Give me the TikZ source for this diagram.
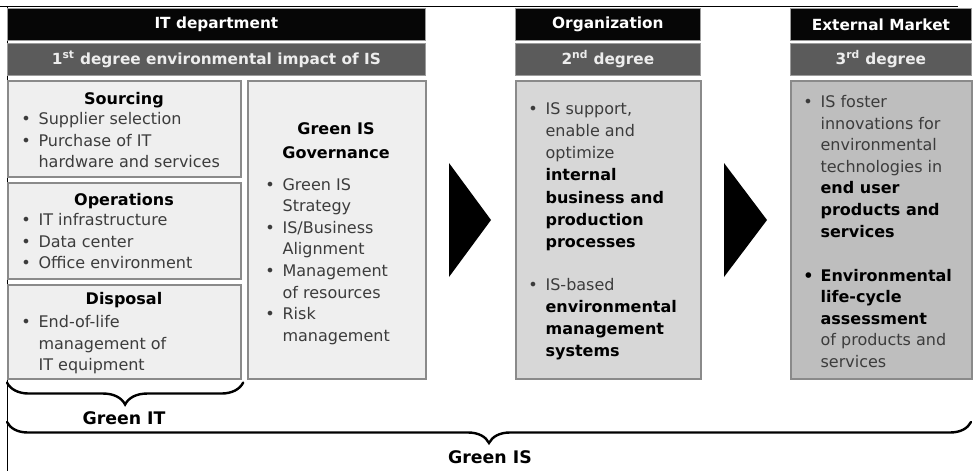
\documentclass[tikz,border=0pt]{standalone}
\usepackage{fontspec}
\setmainfont{DejaVu Sans}
\usetikzlibrary{positioning,decorations.pathreplacing}

\definecolor{barblack}{HTML}{060606}
\definecolor{bargrey}{HTML}{5B5B5B}
\definecolor{baredge}{HTML}{9C9C9C}
\definecolor{panellight}{HTML}{EFEFEF}
\definecolor{panelmid}{HTML}{D7D7D7}
\definecolor{paneldark}{HTML}{BEBEBE}
\definecolor{paneledge}{HTML}{8A8A8A}
\definecolor{bodytext}{HTML}{3C3C3C}

\newcommand{\itmark}{\makebox[13pt][l]{\textbullet}}
\newcommand{\itcont}{\hspace*{13pt}}
\newcommand{\bwd}[1]{{\bfseries\color{black}#1}}

\tikzset{
  bar/.style={anchor=north west, inner sep=0pt, fill=barblack, draw=baredge, line width=0.6pt,
    text=white, font=\fontsize{11.5}{13}\selectfont\bfseries, minimum height=24pt},
  degbar/.style={bar, fill=bargrey, text=white!93!black},
  panel/.style={anchor=north west, inner sep=0pt, draw=paneledge, line width=1.4pt, minimum height=223.5pt},
  ttl/.style={inner sep=0pt, align=center, font=\fontsize{12}{18}\selectfont\bfseries, text=black},
  lst/.style={anchor=north west, inner sep=0pt, align=left, font=\fontsize{12}{16.2}\selectfont, text=bodytext},
  gbrace/.style={decorate, decoration={brace, mirror, amplitude=#1}, line width=1.8pt, line cap=round},
  grn/.style={inner sep=0pt, font=\fontsize{13}{15}\selectfont\bfseries},
  arrowhead/.style={fill=black}
}

\begin{document}
\begin{tikzpicture}[x=0.75pt,y=-0.75pt]
\useasboundingbox (0,0) rectangle (973,471);
% frame of the screenshot
\draw[line width=0.75pt] (0,6) -- (958,6);
\draw[line width=0.75pt] (7,6) -- (7,471);

% IT department
\node[bar, minimum width=313.5pt] (itdept) at (7,8) {IT department};
\node[degbar, minimum width=313.5pt] (deg1) at (7,43) {1\textsuperscript{st} degree environmental impact of IS};
\node[panel, fill=panellight, minimum width=174.75pt, minimum height=72pt] (sourcing) at (7,80) {};
\node[panel, fill=panellight, minimum width=174.75pt, minimum height=72pt] (operations) at (7,182) {};
\node[panel, fill=panellight, minimum width=174.75pt, minimum height=70.5pt] (disposal) at (7,284) {};
\node[panel, fill=panellight, minimum width=133.5pt] (governance) at (247,80) {};

\node[ttl, anchor=base] (sourcingttl) at (124,104) {Sourcing};
\node[lst] (sourcinglst) at (21,112) {\itmark Supplier selection\\ \itmark Purchase of IT\\ \itcont hardware and services};
\node[ttl, anchor=base] (operationsttl) at (124,205) {Operations};
\node[lst] (operationslst) at (21,213) {\itmark IT infrastructure\\ \itmark Data center\\ \itmark Office environment};
\node[ttl, anchor=base] (disposalttl) at (124,304) {Disposal};
\node[lst] (disposallst) at (21,315) {\itmark End-of-life\\ \itcont management of\\ \itcont IT equipment};
\node[ttl, anchor=north] (governancettl) at (336,122) {Green IS\\Governance};
\node[lst] (governancelst) at (265,178) {\itmark Green IS\\ \itcont Strategy\\ \itmark IS/Business\\ \itcont Alignment\\ \itmark Management\\ \itcont of resources\\ \itmark Risk\\ \itcont management};

% Organization
\node[bar, minimum width=138.75pt] (orgbar) at (515,8) {Organization};
\node[degbar, minimum width=138.75pt] (deg2) at (515,43) {2\textsuperscript{nd} degree};
\node[panel, fill=panelmid, minimum width=138.75pt] (orgbox) at (515,80) {};
\node[lst, font=\fontsize{12}{16.7}\selectfont] (orglst) at (528,102) {\itmark IS support,\\ \itcont enable and\\ \itcont optimize\\ \itcont\bwd{internal}\\ \itcont\bwd{business and}\\ \itcont\bwd{production}\\ \itcont\bwd{processes}\\[15pt] \itmark IS-based\\ \itcont\bwd{environmental}\\ \itcont\bwd{management}\\ \itcont\bwd{systems}};

% External market
\node[bar, minimum width=135.75pt] (extbar) at (790,8) {External Market};
\node[degbar, minimum width=135.75pt] (deg3) at (790,43) {3\textsuperscript{rd} degree};
\node[panel, fill=paneldark, minimum width=135.75pt] (extbox) at (790,80) {};
\node[lst] (extlst) at (803,95) {\itmark IS foster\\ \itcont innovations for\\ \itcont environmental\\ \itcont technologies in\\ \itcont\bwd{end user}\\ \itcont\bwd{products and}\\ \itcont\bwd{services}\\[16.8pt] \bwd{\itmark Environmental}\\ \itcont\bwd{life-cycle}\\ \itcont\bwd{assessment}\\ \itcont of products and\\ \itcont services};

% arrows between the degrees
\fill[arrowhead] (449,163) -- (491,220) -- (449,277) -- cycle;
\fill[arrowhead] (724,163) -- (767,220) -- (724,277) -- cycle;

% braces
\coordinate (itl) at ([yshift=-2pt]disposal.south west);
\coordinate (itr) at ([yshift=-2pt,xshift=1pt]disposal.south east);
\draw[gbrace=16.5pt] (itl) -- (itr);
\node[grn] (greenit) at (124,418) {Green IT};
\coordinate (isl) at (7,422);
\coordinate (isr) at (971,422);
\draw[gbrace=15.75pt] (isl) -- (isr);
\node[grn] (greenis) at (490,457) {Green IS};
\end{tikzpicture}
\end{document}
